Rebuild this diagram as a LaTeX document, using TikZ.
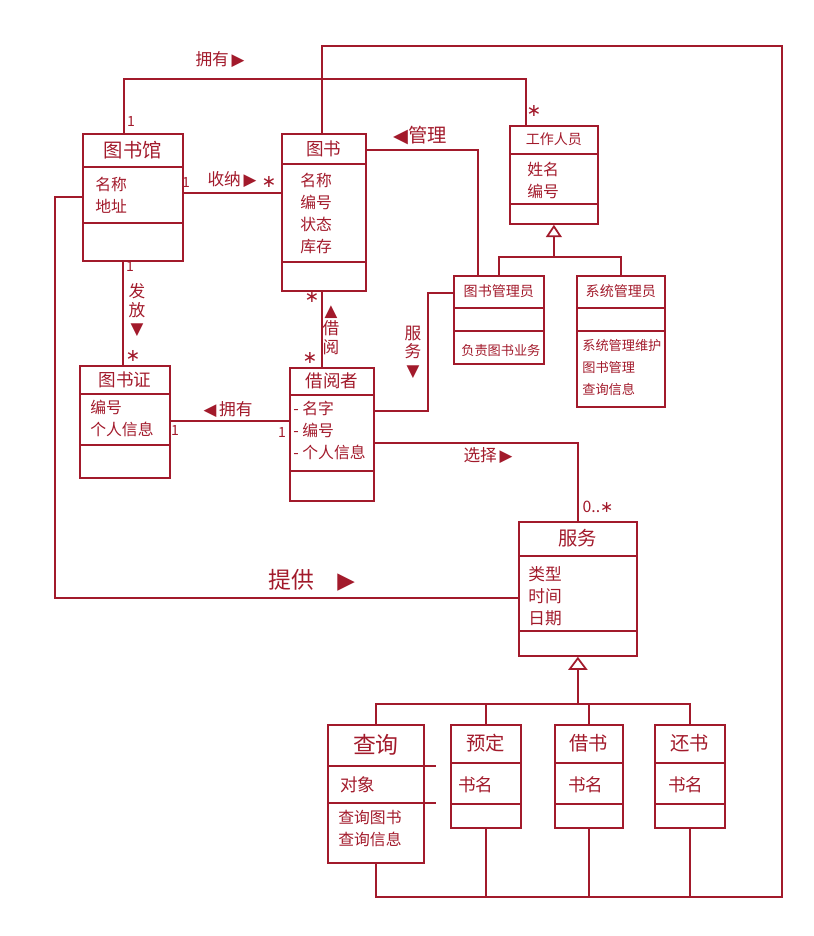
\documentclass[tikz,border=0pt]{standalone}
\usepackage{fontspec}
\setmainfont{Noto Sans CJK SC}
\newfontfamily\symfont{DejaVu Sans}
\usepackage{tikz}
\usetikzlibrary{arrows.meta, positioning, calc}
\definecolor{encre}{HTML}{A21A2B}
\newcommand{\tri}[1]{{\symfont #1}}
\tikzset{
  classbox/.style={draw=encre, line width=1pt, anchor=north west, inner sep=0pt},
  lien/.style={draw=encre, line width=1pt},
  herite/.style={lien, -{Triangle[open, length=7pt, width=9pt]}},
  attrib/.style={text=encre, font=\fontsize{9}{12.5}\selectfont, anchor=north west, align=left, inner sep=0pt},
  etiq/.style={text=encre, font=\fontsize{9.5}{11}\selectfont, inner sep=1pt},
  mult/.style={text=encre, font=\fontsize{8}{10}\selectfont, inner sep=1pt},
  etoile/.style={mult, font=\symfont\fontsize{10}{10}\selectfont}
}

\begin{document}
\begin{tikzpicture}[x=0.02cm, y=-0.02cm]
    \useasboundingbox (0,0) rectangle (814,936);
    % classes
    \foreach \n/\x/\y/\w/\h/\t/\a/\fs/\lab in {
      lib/82/133/100/127/34/90/11/图书馆,
      book/281/133/84/157/31/129/10/图书,
      staff/509/125/88/98/29/79/8/工作人员,
      libr/453/275/90/88/33/56/8/图书管理员,
      admin/576/275/88/131/33/56/8/系统管理员,
      card/79/365/90/112/29/80/10/图书证,
      reader/289/367/84/133/28/104/10/借阅者,
      svc/518/521/118/134/35/110/11/服务,
      query/327/724/96/138/42/79/13/查询,
      resv/450/724/70/103/39/80/11/预定,
      borrow/554/724/68/103/39/80/11/借书,
      giveback/654/724/70/103/39/80/11/还书} {
      \node[classbox, minimum width=\w*0.02cm, minimum height=\h*0.02cm] (\n) at (\x,\y) {};
      \draw[lien] ($(\n.north west)+(0,\t)$) -- ($(\n.north east)+(0,\t)$);
      \draw[lien] ($(\n.north west)+(0,\a)$) -- ($(\n.north east)+(0,\a)$);
      \node[text=encre, font=\fontsize{\fs}{12}\selectfont] (\n-titre) at ($(\n.north)+(0,\t/2)$) {\lab};
    }
    \draw[lien] ($(query.north east)+(0,42)$) -- ++(11,0);
    \draw[lien] ($(query.north east)+(0,79)$) -- ++(11,0);

    % attributes and operations
    \node[attrib] (lib-a) at (95,177) {名称\\地址};
    \node[attrib] (book-a) at (300,173) {名称\\编号\\状态\\库存};
    \node[attrib] (staff-a) at (527,162) {姓名\\编号};
    \node[attrib, font=\fontsize{7.5}{12}\selectfont] (libr-m) at (461,344) {负责图书业务};
    \node[attrib, font=\fontsize{7.5}{12.5}\selectfont] (admin-m) at (582,339) {系统管理维护\\图书管理\\查询信息};
    \node[attrib] (card-a) at (90,400) {编号\\个人信息};
    \node[attrib] (reader-a) at (293,401) {- 名字\\- 编号\\- 个人信息};
    \node[attrib, font=\fontsize{9.5}{12.5}\selectfont] (svc-a) at (528,566) {类型\\时间\\日期};
    \node[attrib, font=\fontsize{10}{12.5}\selectfont] (query-a) at (340,776) {对象};
    \node[attrib] (query-m) at (338,810) {查询图书\\查询信息};
    \node[attrib, font=\fontsize{10}{12.5}\selectfont] (resv-a) at (458,776) {书名};
    \node[attrib, font=\fontsize{10}{12.5}\selectfont] (borrow-a) at (568,776) {书名};
    \node[attrib, font=\fontsize{10}{12.5}\selectfont] (giveback-a) at (668,776) {书名};

    % associations
    \draw[lien] ($(lib.north west)+(42,0)$) -- ++(0,-54) -| ($(staff.north west)+(17,0)$);
    \coordinate (coin) at (782,897);
    \draw[lien] ($(book.north west)+(41,0)$) -- ++(0,-87) -| (coin) -| (query.south);
    \foreach \n in {resv, borrow, giveback}
      \draw[lien] (\n.south) -- (\n.south |- coin);
    \draw[lien] ($(lib.north east)+(0,60)$) coordinate (sn) -- (sn -| book.west);
    \draw[lien] ($(lib.south west)+(41,0)$) coordinate (ff) -- (ff |- card.north);
    \draw[lien] ($(book.south west)+(41,0)$) coordinate (jy) -- (jy |- reader.north);
    \draw[lien] ($(reader.north west)+(0,54)$) coordinate (yy) -- (yy -| card.east);
    \draw[lien] ($(book.north east)+(0,17)$) -| ($(libr.north west)+(25,0)$);
    \draw[lien] ($(reader.north east)+(0,44)$) -- ++(53,0) |- ($(libr.north west)+(0,18)$);
    \draw[lien] ($(reader.north east)+(0,76)$) -| (svc.north);
    \draw[lien] ($(lib.north west)+(0,64)$) -- ++(-27,0) |- ($(svc.north west)+(0,77)$);

    % generalisations
    \coordinate (h1) at ($(staff.south)+(0,32)$);
    \draw[lien] (libr.north) |- (h1) -| (admin.north);
    \draw[herite] (h1) -- (staff.south);
    \coordinate (h2) at ($(svc.south)+(0,47)$);
    \draw[lien] (query.north) |- (h2) -| (giveback.north);
    \draw[lien] (resv.north) -- (resv.north |- h2);
    \draw[lien] (borrow.north) -- (borrow.north |- h2);
    \draw[herite, -{Triangle[open, length=7.5pt, width=11pt]}] (h2) -- (svc.south);

    % labels
    \node[etiq] (yongyou1) at (220,60) {拥有\,\tri{▶}};
    \node[mult] (m1) at (131,121) {1};
    \node[etoile] (m2) at (534,111) {∗};
    \node[mult] (m3) at (186,182) {1};
    \node[etiq] (shouna) at (232,180) {收纳\,\tri{▶}};
    \node[etoile] (m4) at (269,182) {∗};
    \node[etiq, font=\fontsize{11}{12}\selectfont] (guanli) at (420,136) {\tri{◀}管理};
    \node[mult] (m5) at (130,266) {1};
    \node[etiq, align=center, font=\fontsize{9.5}{10.5}\selectfont] (fafang) at (137,310) {发\\放\\\tri{▼}};
    \node[etoile] (m6) at (133,356) {∗};
    \node[etoile] (m7) at (312,297) {∗};
    \node[etiq, align=center, font=\fontsize{9.5}{10.5}\selectfont] (jieyue) at (331,330) {\tri{▲}\\借\\阅};
    \node[etoile] (m8) at (310,358) {∗};
    \node[etiq, align=center, font=\fontsize{9.5}{10.5}\selectfont] (fuwu) at (413,352) {服\\务\\\tri{▼}};
    \node[etiq] (yongyou2) at (228,410) {\tri{◀}\,拥有};
    \node[mult] (m9) at (175,430) {1};
    \node[mult] (m10) at (282,432) {1};
    \node[etiq] (xuanze) at (488,456) {选择\,\tri{▶}};
    \node[mult, font=\fontsize{9}{10}\selectfont] (m11) at (598,507) {0..\tri{∗}};
    \node[etiq, font=\fontsize{13}{14}\selectfont] (tigong) at (312,580) {提供\quad\tri{▶}};
\end{tikzpicture}
\end{document}
